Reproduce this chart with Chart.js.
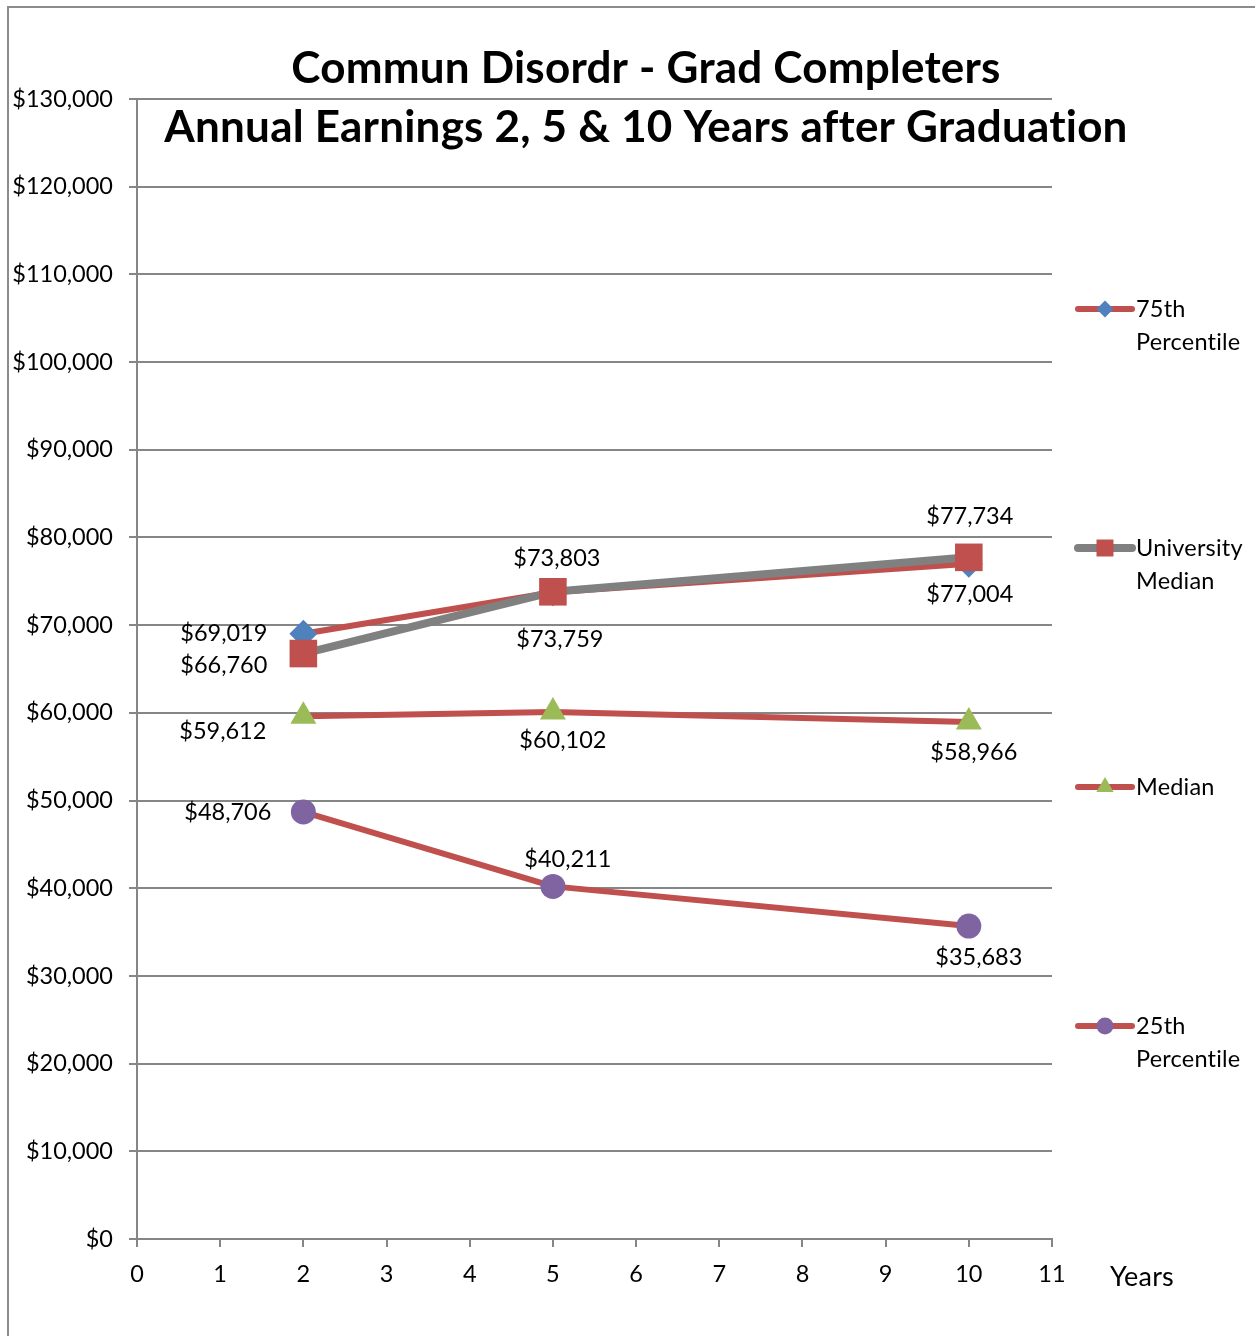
<!DOCTYPE html>
<html>
<head>
<meta charset="utf-8">
<title>Commun Disordr - Grad Completers</title>
<script src="https://cdn.jsdelivr.net/npm/chart.js@4.4.0/dist/chart.umd.min.js"></script>
<style>
  html, body { margin: 0; padding: 0; background: #fff; }
  #wrap { position: relative; width: 1255px; height: 1336px; overflow: hidden; }
  #frame { position: absolute; left: 7px; top: 6px; right: -4px; bottom: -4px;
           border-left: 2px solid #8c8c8c; border-top: 2px solid #8c8c8c; }
  #chart { position: absolute; left: 0; top: 0; }
</style>
</head>
<body>
<div id="wrap">
  <div id="frame"></div>
  <canvas id="chart" width="1255" height="1336"></canvas>
</div>
<script>
// Chart data
const years = [2, 5, 10];
const seriesNames = ['75th Percentile', 'University Median', 'Median', '25th Percentile'];
const pct75 = [69019, 73759, 77004];
const univMedian = [66760, 73803, 77734];
const median = [59612, 60102, 58966];
const pct25 = [48706, 40211, 35683];
const titleLines = ['Commun Disordr - Grad Completers', 'Annual Earnings 2, 5 & 10 Years after Graduation'];
const xAxisName = 'Years';
const yMin = 0, yMax = 130000, yStep = 10000;
const xMin = 0, xMax = 11, xStep = 1;

// label placement per point: [dx, dy, align] relative to the marker
const labelSpots = [
  [[-36, 0, 'right'], [7, 47, 'center'], [1, 31, 'center']],
  [[-36, 12, 'right'], [4, -33, 'center'], [1, -41, 'center']],
  [[-37, 15, 'right'], [10, 28, 'center'], [5, 31, 'center']],
  [[-32, 1, 'right'], [15, -27, 'center'], [10, 31, 'center']]
];

const RED = '#C0504D';
const GREY = '#808080';
const AXIS = '#868686';
const FONT = 'Lato, "Open Sans", sans-serif';
const TXT = 23.5;

const money = v => '$' + Number(v).toLocaleString('en-US');
const toPoints = vals => years.map((x, i) => ({ x, y: vals[i] }));

const datasets = [
  { label: seriesNames[0], data: toPoints(pct75), borderColor: RED, borderWidth: 6,
    pointStyle: 'rectRot', pointRadius: 14, pointBackgroundColor: '#4F81BD', legendRadius: 8.5, order: 2 },
  { label: seriesNames[1], data: toPoints(univMedian), borderColor: GREY, borderWidth: 8,
    pointStyle: 'rect', pointRadius: 19.5, pointBackgroundColor: RED, legendRadius: 12, order: 1 },
  { label: seriesNames[2], data: toPoints(median), borderColor: RED, borderWidth: 6,
    pointStyle: 'triangle', pointRadius: 15, pointBackgroundColor: '#9BBB59', legendRadius: 10, order: 3 },
  { label: seriesNames[3], data: toPoints(pct25), borderColor: RED, borderWidth: 6,
    pointStyle: 'circle', pointRadius: 12.5, pointBackgroundColor: '#8064A2', legendRadius: 8.5, order: 4 }
].map(ds => ({ ...ds, pointBorderWidth: 0, pointBorderColor: ds.pointBackgroundColor,
               pointHoverRadius: ds.pointRadius, borderCapStyle: 'round', borderJoinStyle: 'round', tension: 0 }));

// title, axis name, data labels and legend drawn like the Excel original
const excelDecor = {
  id: 'excelDecor',
  afterDatasetsDraw(chart) {
    const { ctx } = chart;
    ctx.save();
    ctx.fillStyle = '#000';
    ctx.textBaseline = 'middle';
    ctx.font = TXT + 'px ' + FONT;
    chart.data.datasets.forEach((ds, di) => {
      const meta = chart.getDatasetMeta(di);
      meta.data.forEach((pt, i) => {
        const [dx, dy, align] = labelSpots[di][i];
        ctx.textAlign = align;
        ctx.fillText(money(ds.data[i].y), pt.x + dx, pt.y + dy);
      });
    });
    ctx.restore();
  },
  afterDraw(chart) {
    const { ctx, chartArea } = chart;
    ctx.save();
    ctx.fillStyle = '#000';
    ctx.textBaseline = 'middle';
    // a tiny letter spacing keeps Lato from merging "ti"
    ctx.letterSpacing = '0.2px';

    // title
    ctx.textAlign = 'center';
    ctx.font = 'bold 44px ' + FONT;
    const cx = 646;
    ctx.fillText(titleLines[0], cx, 69);
    ctx.fillText(titleLines[1], cx, 128);

    // x axis name
    ctx.textAlign = 'left';
    ctx.font = '27px ' + FONT;
    ctx.fillText(xAxisName, 1110, 1277);

    // legend
    const lx0 = chartArea.right + 26, lx1 = chartArea.right + 80, tx = chartArea.right + 84;
    chart.data.datasets.forEach((ds, i) => {
      const y = 309 + i * 239;
      ctx.strokeStyle = ds.borderColor;
      ctx.lineWidth = ds.borderWidth;
      ctx.lineCap = 'round';
      ctx.beginPath();
      ctx.moveTo(lx0, y);
      ctx.lineTo(lx1, y);
      ctx.stroke();
      ctx.fillStyle = ds.pointBackgroundColor;
      Chart.helpers.drawPoint(ctx, { pointStyle: ds.pointStyle, radius: ds.legendRadius, rotation: 0, borderWidth: 0 },
        (lx0 + lx1) / 2, y);
      ctx.fillStyle = '#000';
      ctx.font = TXT + 'px ' + FONT;
      ctx.textAlign = 'left';
      const words = ds.label.split(' ');
      ctx.fillText(words[0], tx, y);
      if (words[1]) ctx.fillText(words[1], tx, y + 33);
    });
    ctx.restore();
  }
};

new Chart(document.getElementById('chart'), {
  type: 'line',
  data: { datasets },
  options: {
    responsive: false,
    animation: false,
    layout: { padding: { left: 0, right: 203, top: 99, bottom: 0 } },
    plugins: { legend: { display: false }, tooltip: { enabled: false }, title: { display: false } },
    scales: {
      x: {
        type: 'linear', min: xMin, max: xMax,
        ticks: { stepSize: xStep, color: '#000', font: { family: FONT, size: TXT }, padding: 13, maxRotation: 0 },
        grid: { drawOnChartArea: false, drawTicks: true, tickLength: 8, color: AXIS, lineWidth: 2 },
        border: { color: AXIS, width: 2 },
        afterFit: s => { s.height = 97; }
      },
      y: {
        min: yMin, max: yMax,
        ticks: { stepSize: yStep, color: '#000', font: { family: FONT, size: TXT }, padding: 16, callback: v => money(v) },
        grid: { color: AXIS, lineWidth: 2, tickLength: 8 },
        border: { color: AXIS, width: 2 },
        afterFit: s => { s.width = 137; }
      }
    }
  },
  plugins: [excelDecor]
});
</script>
</body>
</html>
